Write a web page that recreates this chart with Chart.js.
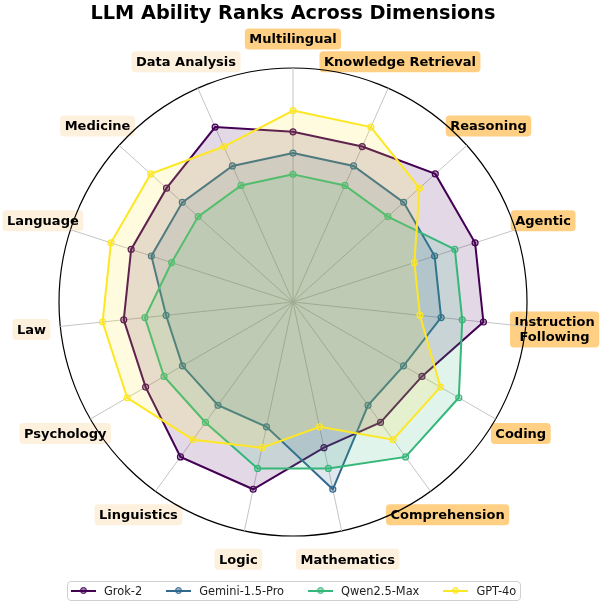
<!DOCTYPE html>
<html>
<head>
<meta charset="utf-8">
<script src="https://cdn.jsdelivr.net/npm/chart.js@4"></script>
<style>
  html, body { margin: 0; padding: 0; background: #fff; }
  #wrap { position: relative; width: 602px; height: 602px; overflow: hidden; }
  #chart { position: absolute; left: 0; top: 0; }
  #title {
    position: absolute; left: 0; top: 1px; width: 586px; text-align: center;
    font: bold 19.3px "DejaVu Sans", sans-serif; color: #000; line-height: 24px;
  }
  #legend {
    position: absolute; left: 67px; top: 581px; width: 454px; height: 20px;
    border: 1px solid #d0d0d0; border-radius: 4px; box-sizing: border-box;
    display: flex; align-items: center; padding-left: 3px;
    font: 11.4px "DejaVu Sans", sans-serif; color: #222; white-space: nowrap;
  }
  .item { display: flex; align-items: center; margin-right: 24px; flex: none; }
  .swatch { position: relative; width: 25px; height: 2px; margin-right: 8px; flex: none; }
  .swatch i {
    position: absolute; left: 9px; top: -3px; width: 5px; height: 5px;
    border-radius: 50%; border: 1px solid; box-sizing: content-box;
  }
</style>
</head>
<body>
<div id="wrap">
  <canvas id="chart" width="602" height="602"></canvas>
  <div id="title">LLM Ability Ranks Across Dimensions</div>
  <div id="legend"></div>
</div>
<script>
// dimensions, clockwise from the top
const categories = [
  'Multilingual', 'Knowledge Retrieval', 'Reasoning', 'Agentic',
  ['Instruction', 'Following'], 'Coding', 'Comprehension', 'Mathematics',
  'Logic', 'Linguistics', 'Psychology', 'Law', 'Language', 'Medicine',
  'Data Analysis'
];

const models = ['Grok-2', 'Gemini-1.5-Pro', 'Qwen2.5-Max', 'GPT-4o'];

const grokValues   = [8, 8, 9, 9, 9, 7, 7, 7, 9, 9, 8, 8, 8, 8, 9];
const geminiValues = [7, 7, 7, 7, 7, 6, 6, 9, 6, 6, 6, 6, 7, 7, 7];
const qwenValues   = [6, 6, 6, 8, 8, 9, 9, 8, 8, 7, 7, 7, 6, 6, 6];
const gptValues    = [9, 9, 8, 6, 6, 8, 8, 6, 7, 8, 9, 9, 9, 9, 8];

const scaleMax = 11;

// labels shown on an orange box, the rest on a pale one
const highlighted = 7;

const colors = [[68, 1, 84], [49, 104, 142], [53, 183, 121], [253, 231, 37]];
const rgba = (c, a) => `rgba(${c[0]}, ${c[1]}, ${c[2]}, ${a})`;

const seriesValues = [grokValues, geminiValues, qwenValues, gptValues];

const datasets = models.map((name, i) => ({
  label: name,
  data: seriesValues[i],
  borderColor: rgba(colors[i], 1),
  backgroundColor: rgba(colors[i], 0.15),
  pointBorderColor: rgba(colors[i], 1),
  pointBackgroundColor: rgba(colors[i], 0.3),
  pointRadius: 3,
  pointBorderWidth: 1.2,
  borderWidth: 2,
  fill: true,
  order: models.length - i
}));

// labels at a fixed distance from the centre, drawn under the grid
const labelBoxes = {
  id: 'labelBoxes',
  beforeDraw(chart) {
    const scale = chart.scales.r;
    const ctx = chart.ctx;
    const lineH = 15;
    ctx.save();
    ctx.font = 'bold 13px "DejaVu Sans", sans-serif';
    ctx.textAlign = 'center';
    ctx.textBaseline = 'middle';
    categories.forEach((label, i) => {
      const lines = Array.isArray(label) ? label : [label];
      const pos = scale.getPointPositionForValue(i, scaleMax * 263 / 234);
      const w = Math.max(...lines.map(l => ctx.measureText(l).width)) + 9;
      const h = lines.length * lineH + 6;
      ctx.fillStyle = i < highlighted ? 'rgba(255, 170, 30, 0.55)' : 'rgba(250, 222, 180, 0.45)';
      ctx.beginPath();
      ctx.roundRect(pos.x - w / 2, pos.y - h / 2, w, h, 4);
      ctx.fill();
      ctx.fillStyle = '#000';
      lines.forEach((l, k) => {
        ctx.fillText(l, pos.x, pos.y - (lines.length - 1) * lineH / 2 + k * lineH + 1);
      });
    });
    ctx.restore();
  }
};

new Chart(document.getElementById('chart'), {
  type: 'radar',
  data: { labels: categories, datasets },
  options: {
    responsive: false,
    animation: false,
    layout: { padding: { left: 59, right: 74, top: 68, bottom: 66 } },
    elements: { line: { tension: 0 } },
    plugins: {
      legend: { display: false },
      title: { display: false },
      tooltip: { enabled: false }
    },
    scales: {
      r: {
        min: 0,
        max: scaleMax,
        ticks: { display: false, stepSize: scaleMax },
        pointLabels: { display: false },
        angleLines: { color: '#c4c4c4', lineWidth: 1 },
        grid: {
          circular: true,
          color: ctx => ctx.tick && ctx.tick.value === scaleMax ? '#000' : 'rgba(0,0,0,0)',
          lineWidth: 1.2
        }
      }
    }
  },
  plugins: [labelBoxes]
});

// legend
const legend = document.getElementById('legend');
models.forEach((name, i) => {
  const item = document.createElement('div');
  item.className = 'item';
  item.innerHTML = `<span class="swatch" style="background:${rgba(colors[i], 1)}">` +
    `<i style="border-color:${rgba(colors[i], 1)};background:${rgba(colors[i], 0.5)}"></i></span>` +
    `<span>${name}</span>`;
  legend.appendChild(item);
});
</script>
</body>
</html>
